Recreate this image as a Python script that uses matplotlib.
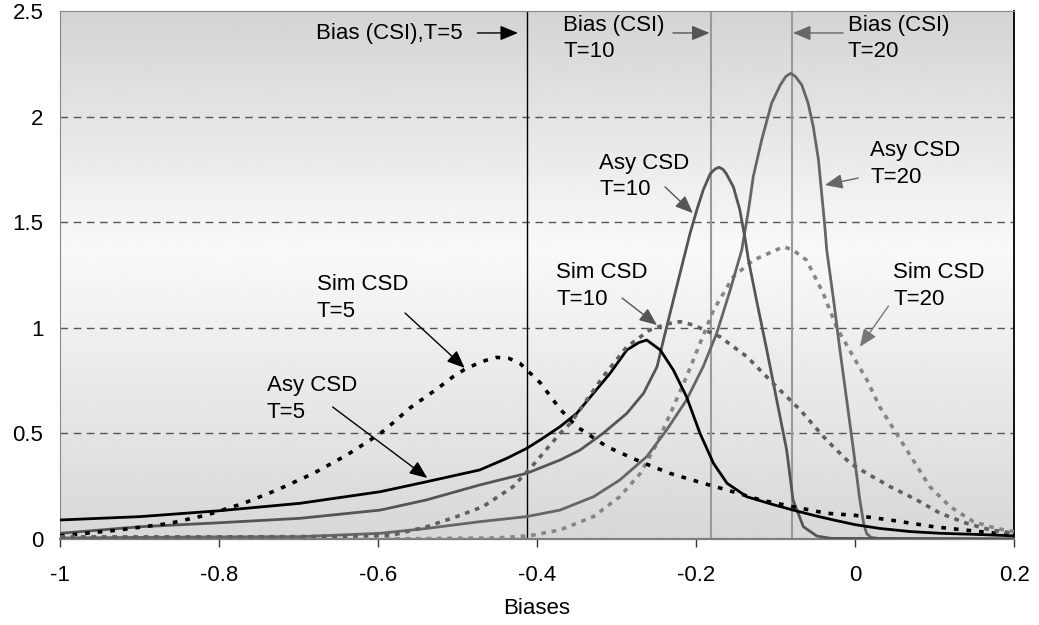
import numpy as np
import matplotlib
matplotlib.use("Agg")
import matplotlib.pyplot as plt

plt.rcParams['font.family'] = ['Liberation Sans', 'DejaVu Sans']

# Data
asy5_x = [-1, -0.899, -0.799, -0.698, -0.597, -0.539, -0.472, -0.438, -0.413, -0.396, -0.371,
          -0.35, -0.329, -0.308, -0.287, -0.272, -0.262, -0.245, -0.2285, -0.212, -0.195,
          -0.178, -0.161, -0.136, -0.105, -0.078, -0.05, -0.027, 0.0, 0.031, 0.07, 0.107,
          0.15, 0.2]
asy5_y = [0.09, 0.106, 0.134, 0.169, 0.224, 0.271, 0.327, 0.382, 0.429, 0.469, 0.532,
          0.595, 0.690, 0.785, 0.895, 0.93, 0.942, 0.895, 0.80, 0.674, 0.50,
          0.358, 0.264, 0.200, 0.165, 0.137, 0.11, 0.09, 0.068, 0.05, 0.035, 0.027,
          0.022, 0.015]

sim5_x = [-1, -0.925, -0.862, -0.815, -0.769, -0.727, -0.681, -0.639, -0.597, -0.581, -0.56,
          -0.526, -0.505, -0.488, -0.465, -0.451, -0.435, -0.421, -0.396, -0.371, -0.35,
          -0.312, -0.27, -0.233, -0.191, -0.161, -0.119, -0.078, -0.036, 0.0, 0.044, 0.099,
          0.157, 0.2]
sim5_y = [0.015, 0.043, 0.074, 0.114, 0.169, 0.232, 0.311, 0.398, 0.50, 0.55, 0.62,
          0.71, 0.77, 0.81, 0.845, 0.86, 0.855, 0.83, 0.74, 0.615, 0.532,
          0.437, 0.366, 0.311, 0.264, 0.232, 0.185, 0.153, 0.122, 0.112, 0.09, 0.058,
          0.035, 0.019]

asy10_x = [-1, -0.899, -0.799, -0.698, -0.597, -0.539, -0.472, -0.413, -0.371, -0.346, -0.317,
           -0.287, -0.266, -0.249, -0.241, -0.2285, -0.216, -0.2075, -0.199, -0.191, -0.182,
           -0.176, -0.171, -0.166, -0.162, -0.153, -0.145, -0.138, -0.134, -0.124, -0.111,
           -0.0985, -0.086, -0.078, -0.065, -0.048, -0.03, 0.2]
asy10_y = [0.027, 0.058, 0.077, 0.098, 0.137, 0.185, 0.256, 0.311, 0.374, 0.421, 0.50,
           0.595, 0.690, 0.816, 0.942, 1.132, 1.32, 1.447, 1.558, 1.652, 1.73,
           1.752, 1.76, 1.75, 1.73, 1.667, 1.56, 1.416, 1.32, 1.132, 0.895,
           0.658, 0.421, 0.185, 0.058, 0.014, 0.003, 0.0]

asy20_x = [-1, -0.8, -0.698, -0.597, -0.539, -0.472, -0.413, -0.371, -0.329, -0.296, -0.262,
           -0.237, -0.212, -0.191, -0.174, -0.157, -0.1425, -0.134, -0.128, -0.1175, -0.105,
           -0.094, -0.087, -0.081, -0.075, -0.067, -0.059, -0.0525, -0.046, -0.042, -0.038,
           -0.0356, -0.027, -0.019, -0.0105, -0.002, 0.006, 0.011, 0.0147, 0.02, 0.03, 0.2]
asy20_y = [0.005, 0.01, 0.011, 0.027, 0.05, 0.082, 0.106, 0.137, 0.200, 0.279, 0.39,
           0.516, 0.658, 0.816, 0.974, 1.179, 1.368, 1.558, 1.716, 1.889, 2.063,
           2.15, 2.19, 2.205, 2.19, 2.15, 2.063, 1.952, 1.795, 1.637, 1.479,
           1.368, 1.132, 0.895, 0.658, 0.421, 0.185, 0.07, 0.025, 0.008, 0.002, 0.0]

sim10_x = [-1, -0.8, -0.65, -0.581, -0.539, -0.501, -0.468, -0.43, -0.405, -0.371, -0.358,
           -0.3375, -0.317, -0.287, -0.258, -0.237, -0.22, -0.2035, -0.17, -0.136, -0.103,
           -0.069, -0.036, -0.006, 0.0147, 0.044, 0.0776, 0.107, 0.1405, 0.17, 0.2]
sim10_y = [0.01, 0.01, 0.012, 0.019, 0.058, 0.106, 0.153, 0.248, 0.35, 0.50, 0.548,
           0.658, 0.768, 0.91, 0.99, 1.018, 1.029, 1.013, 0.958, 0.863, 0.737,
           0.611, 0.469, 0.358, 0.311, 0.248, 0.185, 0.122, 0.074, 0.043, 0.027]

sim20_x = [-1, -0.6, -0.45, -0.41, -0.371, -0.329, -0.296, -0.27, -0.249, -0.2285, -0.212,
           -0.195, -0.178, -0.153, -0.128, -0.09, -0.078, -0.061, -0.04, -0.0235, -0.0063,
           0.0147, 0.031, 0.052, 0.073, 0.094, 0.1195, 0.149, 0.178, 0.2]
sim20_y = [0.0, 0.0, 0.005, 0.015, 0.043, 0.106, 0.2, 0.311, 0.453, 0.626, 0.768,
           0.926, 1.084, 1.242, 1.32, 1.384, 1.368, 1.32, 1.163, 1.005, 0.89,
           0.755, 0.626, 0.50, 0.374, 0.248, 0.153, 0.082, 0.05, 0.035]

csi_bias = [-0.413, -0.181, -0.079]

x_ticks = [-1, -0.8, -0.6, -0.4, -0.2, 0, 0.2]
x_labels = ["-1", "-0.8", "-0.6", "-0.4", "-0.2", "0", "0.2"]
y_ticks = [0, 0.5, 1, 1.5, 2, 2.5]
y_labels = ["0", "0.5", "1", "1.5", "2", "2.5"]

fig = plt.figure(figsize=(10.39, 6.25), dpi=100)
ax = fig.add_axes([0.0577, 0.1376, 0.9183, 0.8448])
ax.set_xlim(-1, 0.2)
ax.set_ylim(0, 2.5)

# gray-white-gray background gradient
t = np.linspace(0, 1, 300)
c = 0.55
shade = np.where(t < c, 0.845 + (0.975 - 0.845) * t / c, 0.975 - (0.975 - 0.83) * (t - c) / (1 - c))
ax.imshow(shade[:, None], extent=[-1, 0.2, 0, 2.5], origin='lower', aspect='auto',
          cmap='gray', vmin=0, vmax=1, zorder=0)

for yv in [0.5, 1, 1.5, 2]:
    ax.axhline(yv, color='#555555', lw=1, dashes=(5.5, 4), zorder=1)

ax.axvline(csi_bias[0], color='black', lw=1, zorder=2)
ax.axvline(csi_bias[1], color='#999999', lw=1.5, zorder=2)
ax.axvline(csi_bias[2], color='#999999', lw=1.5, zorder=2)

ax.plot(sim20_x, sim20_y, color='#868686', lw=2.6, dashes=(1.3, 1.6), zorder=3)
ax.plot(asy20_x, asy20_y, color='#666666', lw=2, zorder=4)
ax.plot(asy10_x, asy10_y, color='#555555', lw=2, zorder=4)
ax.plot(sim5_x, sim5_y, color='black', lw=2.6, dashes=(1.3, 2.2), zorder=5)
ax.plot(asy5_x, asy5_y, color='black', lw=2, zorder=6)
ax.plot(sim10_x, sim10_y, color='#606060', lw=2.6, dashes=(1.3, 1.6), zorder=6)

fs = 16
head = '-|>,head_length=0.6,head_width=0.25'


def note(text, xy, xytext, start, color):
    ax.text(xytext[0], xytext[1], text, fontsize=fs, ha='left', va='center',
            linespacing=1.36, zorder=7)
    ax.annotate('', xy=xy, xytext=start,
                arrowprops=dict(arrowstyle=head, mutation_scale=18, color=color, lw=1,
                                shrinkA=0, shrinkB=0), zorder=7)


note("Bias (CSI),T=5", (-0.424, 2.396), (-0.678, 2.392), (-0.475, 2.396), 'black')
note("Bias (CSI)\nT=10", (-0.183, 2.396), (-0.367, 2.37), (-0.229, 2.396), '#555555')
note("Bias (CSI)\nT=20", (-0.078, 2.396), (-0.009, 2.37), (-0.015, 2.396), '#666666')
note("Asy CSD\nT=10", (-0.204, 1.543), (-0.322, 1.716), (-0.239, 1.667), '#555555')
note("Asy CSD\nT=20", (-0.038, 1.676), (0.019, 1.776), (0.004, 1.709), '#666666')
note("Sim CSD\nT=10", (-0.249, 1.013), (-0.376, 1.198), (-0.293, 1.141), '#555555')
note("Sim CSD\nT=20", (0.006, 0.91), (0.048, 1.198), (0.042, 1.103), '#777777')
note("Sim CSD\nT=5", (-0.491, 0.81), (-0.677, 1.141), (-0.566, 1.07), 'black')
note("Asy CSD\nT=5", (-0.538, 0.289), (-0.740, 0.663), (-0.657, 0.625), 'black')

ax.set_xticks(x_ticks)
ax.set_xticklabels(x_labels, fontsize=fs)
ax.set_yticks(y_ticks)
ax.set_yticklabels(y_labels, fontsize=fs)
ax.tick_params(axis='x', direction='out', length=6, width=1, color='#333333', pad=13)
ax.tick_params(axis='y', length=0, pad=12)
ax.set_xlabel("Biases", fontsize=fs, labelpad=8)

ax.spines['left'].set_color('#888888')
ax.spines['top'].set_color('#888888')
ax.spines['right'].set_color('black')
ax.spines['right'].set_linewidth(1.3)
ax.spines['bottom'].set_color('#7f7f7f')
ax.spines['bottom'].set_linewidth(1.6)

fig.savefig("out.png", dpi=100)
